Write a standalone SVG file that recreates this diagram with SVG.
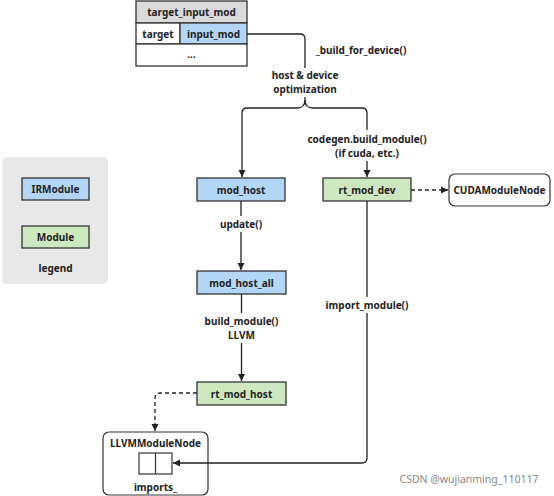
<svg xmlns="http://www.w3.org/2000/svg" width="554" height="496" viewBox="0 0 554 496">
<defs>
<marker id="ah" markerWidth="8" markerHeight="8" refX="7" refY="4" orient="auto" markerUnits="userSpaceOnUse">
<path d="M0,0.5 L7,4 L0,7.5 z" fill="#222"/>
</marker>
<style>
text{font-family:"Noto Sans","Open Sans","DejaVu Sans",sans-serif;font-size:10px;font-weight:bold;fill:#222;text-anchor:middle;dominant-baseline:central}
.box{stroke:#333;stroke-width:1.3}
.blue{fill:#b3d6f5}
.green{fill:#cde8bf}
.white{fill:#fff}
.gray{fill:#dadada}
.rnd{fill:#fff;stroke:#333;stroke-width:1.2}
.ln{fill:none;stroke:#222;stroke-width:1.3}
.dash{fill:none;stroke:#222;stroke-width:1.3;stroke-dasharray:4,3}
.wm{font-weight:normal;fill:#888;font-size:10.5px}
</style>
</defs>
<rect width="554" height="496" fill="#fff"/>

<g id="legend">
<rect x="2" y="157" width="106" height="127" rx="5" fill="#e8e8e8"/>
<rect class="box blue" x="22" y="178" width="67" height="22"/>
<text x="55.5" y="189">IRModule</text>
<rect class="box green" x="22" y="226" width="67" height="22"/>
<text x="55.5" y="237">Module</text>
<text x="55.5" y="268">legend</text>
</g>

<g id="target_input_mod">
<rect class="box gray" x="136" y="1" width="111" height="22"/>
<text x="191.5" y="12">target_input_mod</text>
<rect class="box white" x="136" y="23" width="44" height="21"/>
<text x="158" y="33.5">target</text>
<rect class="box blue" x="180" y="23" width="67" height="21"/>
<text x="213.5" y="33.5">input_mod</text>
<rect class="box white" x="136" y="44" width="111" height="22"/>
<text x="191.5" y="54">...</text>
</g>

<g id="mod_host">
<rect class="box blue" x="197" y="178" width="88" height="23"/>
<text x="241" y="189.5">mod_host</text>
</g>
<g id="mod_host_all">
<rect class="box blue" x="197" y="271" width="89" height="23"/>
<text x="241.5" y="282.5">mod_host_all</text>
</g>
<g id="rt_mod_host">
<rect class="box green" x="197" y="382" width="89" height="23"/>
<text x="241.5" y="393.5">rt_mod_host</text>
</g>
<g id="rt_mod_dev">
<rect class="box green" x="323" y="178" width="88" height="23"/>
<text x="367" y="189.5">rt_mod_dev</text>
</g>
<g id="CUDAModuleNode">
<rect class="rnd" x="449" y="174" width="101" height="32" rx="6"/>
<text x="499.5" y="190">CUDAModuleNode</text>
</g>
<g id="LLVMModuleNode">
<rect class="rnd" x="103" y="432" width="105" height="63" rx="6"/>
<text x="155.5" y="443">LLVMModuleNode</text>
<rect x="139" y="453" width="33" height="21" fill="#fff" stroke="#333" stroke-width="1.2"/>
<line x1="155.5" y1="453" x2="155.5" y2="474" stroke="#333" stroke-width="1.2"/>
<text x="155.5" y="487">imports_</text>
</g>

<g id="connectors">
<path class="ln" d="M247,34 H300 Q305,34 305,39 V68"/>
<text x="361" y="50">_build_for_device()</text>
<text x="305" y="75">host &amp; device</text>
<text x="305" y="89">optimization</text>
<path class="ln" d="M305,97 V100 Q305,108 297,108 H247 Q242,108 242,113 V177" marker-end="url(#ah)"/>
<path class="ln" d="M305,100 Q305,108 313,108 H362 Q367,108 367,113 V130"/>
<text x="367" y="139">codegen.build_module()</text>
<text x="367" y="153">(if cuda, etc.)</text>
<path class="ln" d="M367,161 V177" marker-end="url(#ah)"/>
<path class="ln" d="M241,201 V216"/>
<text x="241" y="224">update()</text>
<path class="ln" d="M241,232 V270" marker-end="url(#ah)"/>
<path class="ln" d="M241.5,294 V313"/>
<text x="241.5" y="321">build_module()</text>
<text x="241.5" y="335">LLVM</text>
<path class="ln" d="M241.5,343 V381" marker-end="url(#ah)"/>
<path class="dash" d="M411,190 H448" marker-end="url(#ah)"/>
<path class="ln" d="M367,201 V297"/>
<text x="367" y="305">import_module()</text>
<path class="ln" d="M367,313 V458 Q367,463 362,463 H173" marker-end="url(#ah)"/>
<path class="dash" d="M197,393 H160 Q155,393 155,398 V431" marker-end="url(#ah)"/>
</g>

<text class="wm" x="469" y="479">CSDN @wujianming_110117</text>
</svg>
